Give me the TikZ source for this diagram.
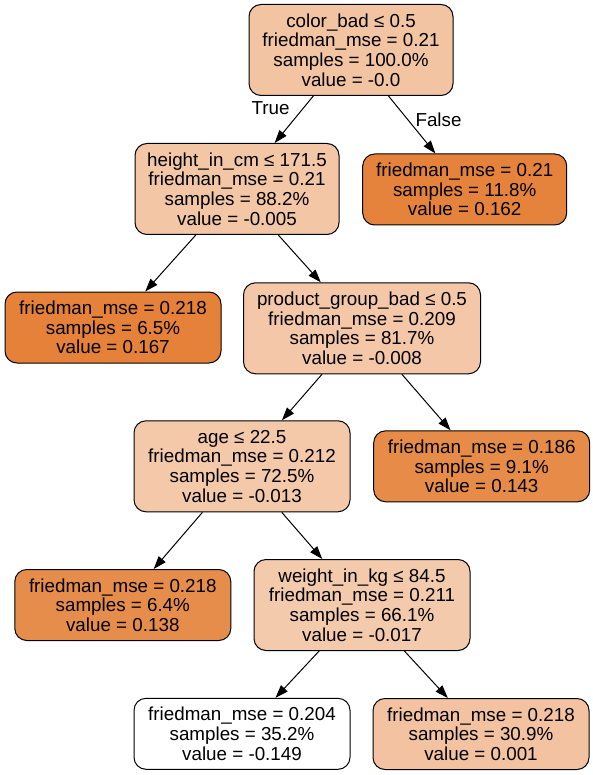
\documentclass[tikz,border=0pt]{standalone}
\usepackage{fontspec}
\setmainfont{Liberation Sans}
\usetikzlibrary{arrows.meta}

% fill colours: shade grows with the predicted value
\definecolor{fillA}{RGB}{243,196,162}
\definecolor{fillB}{RGB}{243,198,165}
\definecolor{fillC}{RGB}{229,131,60}
\definecolor{fillD}{RGB}{229,129,57}
\definecolor{fillE}{RGB}{243,199,167}
\definecolor{fillF}{RGB}{244,201,170}
\definecolor{fillG}{RGB}{231,139,72}
\definecolor{fillH}{RGB}{231,141,75}
\definecolor{fillI}{RGB}{244,202,172}
\definecolor{fillJ}{RGB}{255,255,255}
\definecolor{fillK}{RGB}{243,195,161}

\begin{document}
\begin{tikzpicture}[x=1pt,y=-1pt,
  txt/.style={font=\fontsize{18.8}{19.7}\selectfont},
  leaf/.style={txt, draw=black, line width=1pt, rounded corners=12pt,
    align=center, inner sep=0pt, minimum width=216pt, minimum height=71pt},
  split/.style={leaf, minimum height=91pt},
  edge/.style={-{Triangle[length=13pt,width=9pt]}, line width=1pt}]
\useasboundingbox (0,0) rectangle (593,775);

\node[split, fill=fillA, minimum width=204pt] (n0) at (351,50)
  {color\_bad ≤ 0.5\\friedman\_mse = 0.21\\samples = 100.0\%\\value = -0.0};
\node[split, fill=fillB, minimum width=204pt] (n1) at (237,189)
  {height\_in\_cm ≤ 171.5\\friedman\_mse = 0.21\\samples = 88.2\%\\value = -0.005};
\node[leaf, fill=fillC, minimum width=204pt] (n2) at (464.7,189.5)
  {friedman\_mse = 0.21\\samples = 11.8\%\\value = 0.162};
\node[leaf, fill=fillD] (n3) at (113,327.5)
  {friedman\_mse = 0.218\\samples = 6.5\%\\value = 0.167};
\node[split, fill=fillE, minimum width=237pt] (n4) at (362,328.3)
  {product\_group\_bad ≤ 0.5\\friedman\_mse = 0.209\\samples = 81.7\%\\value = -0.008};
\node[split, fill=fillF] (n5) at (242,466.3)
  {age ≤ 22.5\\friedman\_mse = 0.212\\samples = 72.5\%\\value = -0.013};
\node[leaf, fill=fillG] (n6) at (481.7,466.3)
  {friedman\_mse = 0.186\\samples = 9.1\%\\value = 0.143};
\node[leaf, fill=fillH] (n7) at (122.8,605)
  {friedman\_mse = 0.218\\samples = 6.4\%\\value = 0.138};
\node[split, fill=fillI] (n8) at (362,605)
  {weight\_in\_kg ≤ 84.5\\friedman\_mse = 0.211\\samples = 66.1\%\\value = -0.017};
\node[leaf, fill=fillJ] (n9) at (242,733.8)
  {friedman\_mse = 0.204\\samples = 35.2\%\\value = -0.149};
\node[leaf, fill=fillK] (n10) at (481,734)
  {friedman\_mse = 0.218\\samples = 30.9\%\\value = 0.001};

\draw[edge] (n0) -- (n1);
\draw[edge] (n0) -- (n2);
\draw[edge] (n1) -- (n3);
\draw[edge] (n1) -- (n4);
\draw[edge] (n4) -- (n5);
\draw[edge] (n4) -- (n6);
\draw[edge] (n5) -- (n7);
\draw[edge] (n5) -- (n8);
\draw[edge] (n8) -- (n9);
\draw[edge] (n8) -- (n10);

\node[txt] (lt) at (270.5,108) {True};
\node[txt] (lf) at (438.5,120) {False};
\end{tikzpicture}
\end{document}
